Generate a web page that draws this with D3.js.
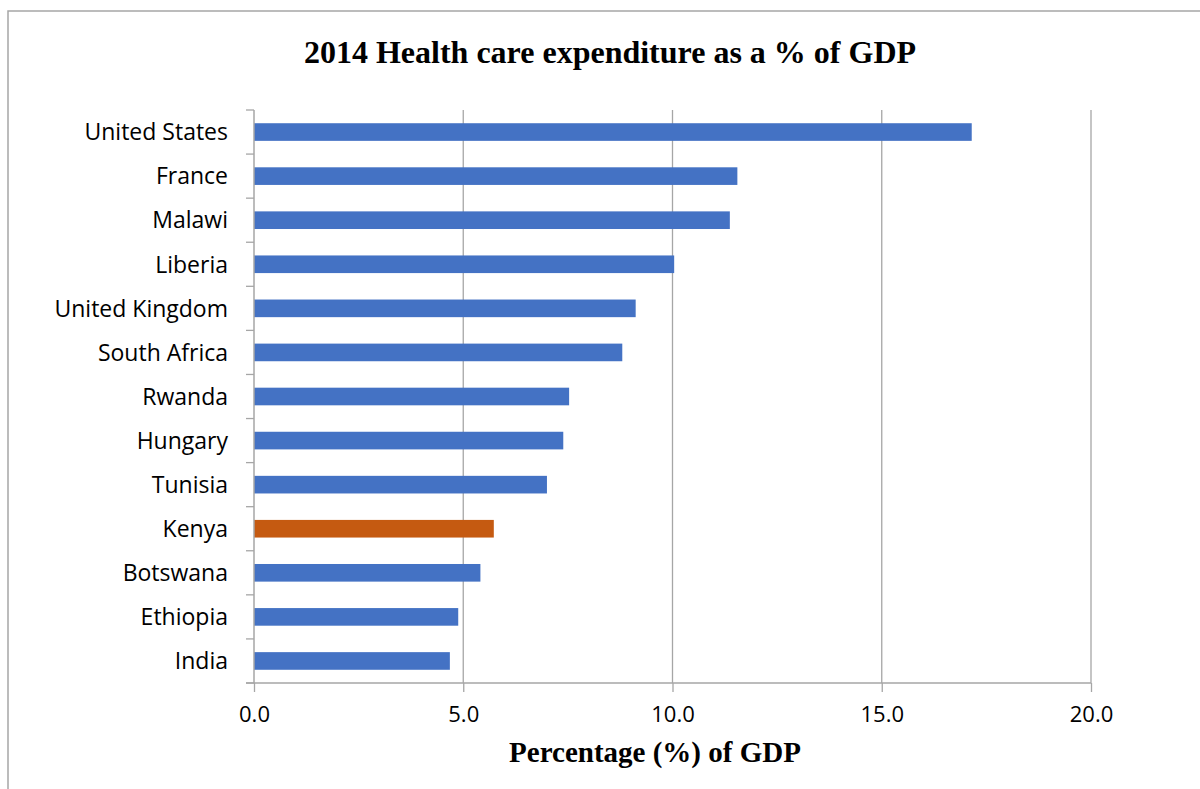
<!DOCTYPE html>
<html>
<head>
	<meta charset="utf-8">
	<title>Health care expenditure</title>
	<script src="https://d3js.org/d3.v7.min.js"></script>
	<style>
		body { margin: 0; background: #fff; }
		.cat text { font-family: "Open Sans", "Noto Sans", sans-serif; font-size: 23px; fill: #000; }
		.tick text { font-family: "Open Sans", "Noto Sans", sans-serif; font-size: 22px; fill: #000; }
	</style>
</head>
<body>
	<svg id="main" width="1200" height="789"></svg>
<script>
	// countries top to bottom
	var countries = ['United States', 'France', 'Malawi', 'Liberia', 'United Kingdom', 'South Africa',
		'Rwanda', 'Hungary', 'Tunisia', 'Kenya', 'Botswana', 'Ethiopia', 'India'];
	var spending = [17.15, 11.55, 11.37, 10.04, 9.12, 8.80, 7.53, 7.39, 7.00, 5.73, 5.41, 4.88, 4.68];
	var xTicks = [0, 5, 10, 15, 20];
	var highlight = 'Kenya';

	var svg = d3.select('#main');

	// outer frame
	svg.append('rect')
		.attr('x', 8).attr('y', 11)
		.attr('width', 1200).attr('height', 800)
		.attr('fill', 'none')
		.attr('stroke', '#a6a6a6')
		.attr('stroke-width', 1.5);

	var plotLeft = 254, plotRight = 1091, plotTop = 110, plotBottom = 683;

	var x = d3.scaleLinear().domain([0, 20]).range([plotLeft, plotRight]);
	var y = d3.scaleBand().domain(countries).range([plotTop, plotBottom]).paddingInner(0.6).paddingOuter(0.3);
	var yb = d3.scaleBand().domain(countries).range([plotTop, plotBottom]);

	// grid lines
	svg.append('g').selectAll('line').data(xTicks.slice(1)).enter().append('line')
		.attr('x1', function(d) { return x(d); })
		.attr('x2', function(d) { return x(d); })
		.attr('y1', plotTop).attr('y2', plotBottom)
		.attr('stroke', '#a6a6a6').attr('stroke-width', 1.3);

	// bars
	svg.append('g').selectAll('rect').data(spending).enter().append('rect')
		.attr('x', x(0))
		.attr('y', function(d, i) { return y(countries[i]); })
		.attr('height', y.bandwidth())
		.attr('width', function(d) { return x(d) - x(0); })
		.attr('fill', function(d, i) { return countries[i] == highlight ? '#C55A11' : '#4472C4'; });

	// y axis line + tick marks at band edges
	var edges = countries.map(function(c) { return yb(c); }).concat([plotBottom]);
	var yAxis = svg.append('g');
	yAxis.append('line')
		.attr('x1', plotLeft).attr('x2', plotLeft).attr('y1', plotTop).attr('y2', plotBottom)
		.attr('stroke', '#a6a6a6').attr('stroke-width', 1.5);
	yAxis.selectAll('line.tk').data(edges).enter().append('line')
		.attr('class', 'tk')
		.attr('x1', plotLeft - 8).attr('x2', plotLeft)
		.attr('y1', function(d) { return d; }).attr('y2', function(d) { return d; })
		.attr('stroke', '#a6a6a6').attr('stroke-width', 1.3);

	// category labels
	svg.append('g').attr('class', 'cat').selectAll('text').data(countries).enter().append('text')
		.attr('x', 228)
		.attr('y', function(d) { return yb(d) + yb.bandwidth() / 2; })
		.attr('dy', '0.36em')
		.attr('text-anchor', 'end')
		.text(function(d) { return d; });

	// x axis
	var xAxis = d3.axisBottom(x).tickValues(xTicks).tickFormat(d3.format('.1f')).tickSize(9).tickPadding(14);
	var gx = svg.append('g').attr('transform', 'translate(0,' + plotBottom + ')').call(xAxis);
	gx.select('.domain').remove();
	gx.selectAll('.tick line').attr('stroke', '#a6a6a6').attr('stroke-width', 1.3);
	gx.append('line')
		.attr('x1', plotLeft - 8).attr('x2', plotRight).attr('y1', 0).attr('y2', 0)
		.attr('stroke', '#a6a6a6').attr('stroke-width', 1.5);

	// titles
	svg.append('text')
		.attr('x', 610).attr('y', 63)
		.attr('text-anchor', 'middle')
		.style('font-family', '"Liberation Serif", "Times New Roman", serif')
		.style('font-weight', 'bold')
		.style('font-size', '32px')
		.text('2014 Health care expenditure as a % of GDP');

	svg.append('text')
		.attr('x', 655).attr('y', 762)
		.attr('text-anchor', 'middle')
		.style('font-family', '"Liberation Serif", "Times New Roman", serif')
		.style('font-weight', 'bold')
		.style('font-size', '29px')
		.text('Percentage (%) of GDP');
</script>
</body>
</html>
